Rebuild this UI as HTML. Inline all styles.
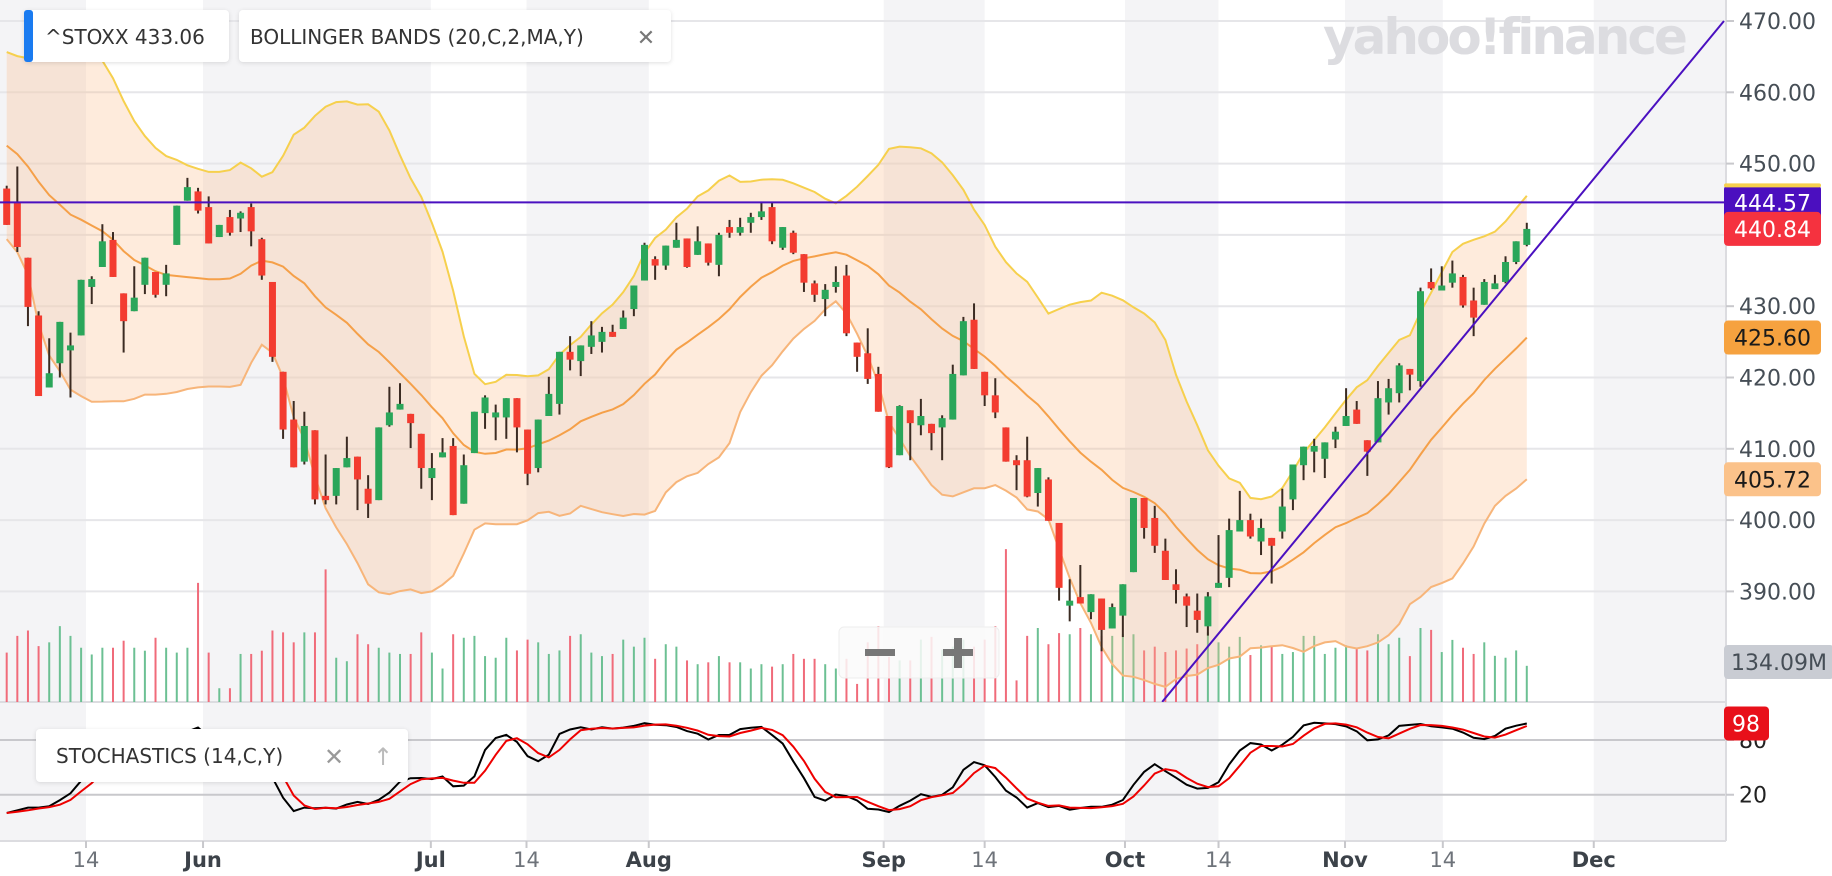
<!DOCTYPE html>
<html><head><meta charset="utf-8">
<style>
html,body{margin:0;padding:0;background:#fff;}
svg{display:block;font-family:"DejaVu Sans","Liberation Sans",sans-serif;}
</style></head>
<body>
<svg id="chart" width="1832" height="876" viewBox="0 0 1832 876" xmlns="http://www.w3.org/2000/svg">
  <defs>
    <clipPath id="priceClip"><rect x="0" y="0" width="1726" height="702"/></clipPath>
    <clipPath id="stochClip"><rect x="0" y="706" width="1726" height="134"/></clipPath>
  </defs>
  <g id="bg"></g>
  <g id="grid"></g>
  <text x="1504" y="54" text-anchor="middle" font-size="50" font-weight="bold" fill="#dcdce0" letter-spacing="-3">yahoo!finance</text>
  <g id="vol"></g>
  <g id="bands" clip-path="url(#priceClip)"></g>
  <g id="candles" clip-path="url(#priceClip)"></g>
  <g id="lines" clip-path="url(#priceClip)"></g>
  <g id="stoch" clip-path="url(#stochClip)"></g>
  <g id="axes"></g>
  <g id="labels"></g>

  <g>
    <rect x="24" y="10" width="205" height="52" rx="4" fill="#fff" filter="drop-shadow(0 1px 2px rgba(0,0,0,0.12))"/>
    <rect x="24" y="10" width="9" height="52" rx="3" fill="#1a7bf0"/>
    <text x="45" y="44" font-size="20" fill="#333">^STOXX  433.06</text>
  </g>
  <g>
    <rect x="239" y="10" width="432" height="52" rx="4" fill="#fff" filter="drop-shadow(0 1px 2px rgba(0,0,0,0.12))"/>
    <text x="250" y="44" font-size="20" fill="#333">BOLLINGER BANDS (20,C,2,MA,Y)</text>
    <text x="646" y="45" font-size="22" fill="#777" text-anchor="middle">✕</text>
  </g>
  <g>
    <rect x="36" y="729" width="372" height="53" rx="4" fill="#fff" filter="drop-shadow(0 1px 2px rgba(0,0,0,0.12))"/>
    <text x="56" y="763" font-size="20" fill="#333">STOCHASTICS (14,C,Y)</text>
    <text x="334" y="765" font-size="24" fill="#999" text-anchor="middle">✕</text>
    <text x="383" y="765" font-size="24" fill="#bbb" text-anchor="middle">↑</text>
  </g>
  <g>
    <rect x="839" y="627" width="160" height="51" rx="5" fill="rgba(250,250,250,0.85)" stroke="#eee"/>
    <rect x="865" y="649" width="30" height="7" fill="#777"/>
    <rect x="943" y="649" width="30" height="7" fill="#777"/>
    <rect x="954" y="638" width="8" height="30" fill="#777"/>
  </g>
</svg>
<script>
const preCloses = [462,465,460,458,455,452,448,450,455,458,460,456,452,448,445,447,450,446,442];
const opens = [446.5,444.5,436.8,428.7,418.6,422.0,423.8,425.9,432.7,435.5,439.3,431.8,429.3,433.0,434.8,433.0,438.6,444.8,446.1,443.9,439.7,442.5,442.3,443.9,439.4,433.4,420.8,414.1,408.2,412.6,403.4,403.4,407.4,408.9,404.4,402.8,413.3,415.5,414.9,412.1,405.9,408.8,410.4,402.3,409.4,415.0,414.4,414.4,417.1,412.7,407.3,414.6,416.3,423.6,422.3,424.3,425.0,426.4,426.8,429.6,433.6,436.6,435.7,438.2,439.5,437.2,438.8,435.8,441.1,440.3,441.7,442.5,443.9,438.2,440.3,437.3,433.2,431.0,432.7,434.3,424.9,423.4,420.5,414.6,409.1,415.4,413.3,413.5,413.0,414.1,420.3,428.1,420.8,417.5,413.0,408.4,408.4,403.8,405.7,399.6,388.0,389.2,387.1,389.0,384.8,386.6,392.7,403.1,400.3,395.7,391.0,389.3,387.3,385.1,390.5,391.9,398.4,400.0,397.0,397.5,398.4,402.9,407.7,409.6,408.6,411.3,413.2,415.5,411.2,410.9,416.5,417.8,421.2,419.5,433.4,432.2,433.3,434.1,430.8,430.2,432.4,433.4,436.2,438.6];
const highs = [446.9,449.6,436.8,429.3,425.5,427.8,426.3,433.7,434.2,441.5,440.4,431.8,435.6,436.8,434.8,435.8,444.1,448.0,446.6,445.4,441.4,443.5,443.3,444.4,439.6,433.4,420.8,416.7,415.2,412.6,409.2,407.3,411.7,408.9,406.3,413.0,418.7,419.2,414.9,412.1,409.4,411.5,411.5,409.2,415.2,417.5,416.2,417.1,417.1,412.7,414.1,420.1,423.6,425.8,424.5,427.9,427.1,427.4,429.4,432.9,438.9,437.0,438.5,441.7,439.5,441.2,438.8,440.3,442.1,442.4,443.1,444.5,444.5,441.1,440.6,437.3,433.6,433.1,435.6,435.8,424.9,426.9,421.5,414.6,416.1,415.4,417.0,413.5,414.7,421.8,428.5,430.4,420.8,419.9,413.0,409.1,411.7,407.3,406.0,399.6,391.7,393.7,389.6,389.0,388.3,391.0,403.1,403.1,402.0,397.4,393.1,389.7,389.7,389.9,397.9,400.2,404.1,400.9,400.2,397.5,404.4,407.8,410.3,411.4,410.9,413.1,418.5,416.7,411.2,419.5,419.8,422.0,421.2,432.6,435.3,435.6,436.4,434.4,432.6,433.8,434.4,437.0,439.1,441.7];
const lows = [441.4,437.6,427.2,417.4,418.6,420.0,417.2,425.9,430.3,435.5,434.1,423.5,429.3,431.7,431.2,431.4,438.6,444.8,443.0,438.8,439.7,439.9,440.4,438.4,433.7,422.2,411.4,407.4,407.8,402.2,402.2,402.2,407.4,401.4,400.3,402.8,413.1,415.5,410.1,404.4,402.8,408.8,400.7,402.3,409.4,412.8,411.2,411.4,409.5,404.9,406.7,414.6,414.8,421.0,420.2,423.3,423.5,425.7,426.8,428.6,433.6,433.7,435.1,438.2,435.4,437.2,435.7,434.2,439.6,439.9,440.3,442.1,438.7,437.9,437.3,432.0,430.6,428.6,431.9,425.8,420.8,419.1,415.2,407.3,409.1,408.4,411.9,409.8,408.4,414.1,420.3,421.2,416.0,414.3,408.2,404.2,403.2,401.9,399.9,388.7,385.8,388.3,386.1,381.6,384.8,383.6,392.7,397.4,395.4,391.6,388.3,385.0,384.2,383.8,390.5,390.6,398.4,397.4,395.1,391.1,397.4,401.4,405.6,406.7,405.9,410.1,413.2,413.5,406.2,410.9,414.8,416.5,418.2,418.7,432.3,432.2,432.6,429.8,425.8,430.2,432.4,433.2,435.9,438.4];
const closes = [441.4,438.3,429.9,417.4,420.6,427.8,424.5,433.7,433.8,439.1,434.1,427.9,431.2,436.8,431.6,434.6,444.1,446.7,443.4,438.8,441.4,440.3,443.1,440.5,434.3,422.9,412.7,407.4,413.2,402.9,402.8,407.3,408.7,405.7,402.3,413.0,415.1,416.3,413.6,407.3,407.3,409.5,400.7,407.7,415.2,417.2,415.1,417.1,413.0,406.5,414.1,417.7,423.6,422.5,424.5,425.9,426.4,425.7,428.4,432.9,438.6,435.7,438.5,439.3,435.5,439.1,436.1,440.0,440.3,441.1,442.5,443.3,439.1,441.1,437.5,433.3,431.6,432.3,433.4,426.2,422.9,419.8,415.2,407.4,416.0,413.6,414.6,412.2,414.3,420.5,427.9,421.2,417.5,415.1,408.2,407.7,403.3,407.3,399.9,390.5,388.7,388.3,389.6,384.6,387.8,391.0,403.1,398.9,396.4,391.6,390.2,388.0,386.0,389.3,391.2,398.6,400.0,397.7,398.9,396.4,401.9,407.8,410.3,410.4,410.9,412.4,414.6,413.5,409.6,417.1,418.5,421.7,420.4,432.1,432.5,432.9,434.6,430.1,428.4,433.4,433.2,436.2,439.1,440.84];
const volumes = [183,245,265,207,221,281,245,201,176,201,201,227,201,190,238,201,183,201,441,183,51,51,178,178,190,265,258,221,258,258,491,164,151,251,214,201,183,178,178,258,183,124,251,238,245,170,164,238,191,231,221,178,191,245,251,183,170,178,231,205,238,160,214,205,154,140,147,170,147,147,124,140,131,140,178,160,160,140,124,160,67,221,281,167,154,154,231,241,194,205,231,205,231,281,566,80,245,274,214,255,251,274,251,245,245,251,251,191,205,185,191,198,214,258,221,205,241,174,210,205,178,185,245,245,178,201,210,201,191,251,214,238,170,274,267,185,230,201,178,221,171,164,191,134];
const priceTicks = [390,400,410,420,430,440,450,460,470];
const priceTickLabels = ["390.00","400.00","410.00","420.00","430.00","440.00","450.00","460.00","470.00"];
const dateTickIdx = [7.46,18.47,39.9,48.9,60.4,82.5,92.0,105.2,114.0,125.9,135.1,149.3];
const dateTickLabels = ["14","Jun","Jul","14","Aug","Sep","14","Oct","14","Nov","14","Dec"];
const hLinePrice = [444.57];
const trendPts = [[108.7,374.5],[161.55,470]];
const stochTicks = [20,80];
const bbPeriod = [20];

const NS = "http://www.w3.org/2000/svg";
const X0 = 6.7, DX = 10.63, PLOT_R = 1726;
const xOf = i => X0 + i * DX;
const yP = p => 163.6 + (450 - p) * 7.13;
const VOL_BASE = 702, VOL_K = 0.27;
const yS = v => 813 - v * 0.913;
function mk(tag, attrs, parent) {
  const el = document.createElementNS(NS, tag);
  for (const k in attrs) el.setAttribute(k, attrs[k]);
  parent.appendChild(el);
  return el;
}
const bg = document.getElementById('bg'), grid = document.getElementById('grid');
const bounds = [0].concat(dateTickIdx.map(xOf)).concat([PLOT_R]);
for (let k = 0; k < bounds.length - 1; k++) {
  if (k % 2 !== 0) continue;
  const r = mk('rect', {x: bounds[k], y: 0, width: bounds[k+1] - bounds[k], height: 841, fill: '#f4f4f6'}, bg);
  
  
}
priceTicks.forEach(p => {
  const l = mk('line', {x1: 0, x2: PLOT_R, y1: yP(p), y2: yP(p), stroke: '#e6e6e9', 'stroke-width': 2}, grid);
  
  
});
mk('line', {x1: 0, x2: PLOT_R, y1: 702, y2: 702, stroke: '#dcdce0', 'stroke-width': 2}, grid);
stochTicks.forEach(s => {
  const l = mk('line', {x1: 0, x2: PLOT_R, y1: yS(s), y2: yS(s), stroke: '#c8c8cc', 'stroke-width': 2}, grid);
  
  
});

const volG = document.getElementById('vol');
volumes.forEach((v, i) => {
  const isUp = closes[i] >= opens[i];
  const l = mk('line', {x1: xOf(i), x2: xOf(i), y1: VOL_BASE, y2: VOL_BASE - v * VOL_K, stroke: isUp ? '#6cc093' : '#f06b7a', 'stroke-width': 2}, volG);
  
  
});

const allC = preCloses.concat(closes);
const P = bbPeriod[0];
const mid = [], up = [], lo = [];
for (let i = 0; i < closes.length; i++) {
  const w = allC.slice(i + preCloses.length - P + 1, i + preCloses.length + 1);
  const m = w.reduce((a, b) => a + b, 0) / w.length;
  const sd = Math.sqrt(w.reduce((a, b) => a + (b - m) * (b - m), 0) / w.length);
  mid.push(m); up.push(m + 2 * sd); lo.push(m - 2 * sd);
}
const bandsG = document.getElementById('bands');
const pts = arr => arr.map((v, i) => xOf(i).toFixed(1) + ',' + yP(v).toFixed(1));
const fill = mk('polygon', {points: pts(up).concat(pts(lo).reverse()).join(' '), fill: 'rgba(253,190,140,0.3)'}, bandsG);


const ub = mk('polyline', {points: pts(up).join(' '), fill: 'none', stroke: '#f6d04d', 'stroke-width': 2}, bandsG);


const mb = mk('polyline', {points: pts(mid).join(' '), fill: 'none', stroke: '#f5a049', 'stroke-width': 2}, bandsG);


const lb = mk('polyline', {points: pts(lo).join(' '), fill: 'none', stroke: '#f7b57a', 'stroke-width': 2}, bandsG);



const cG = document.getElementById('candles');
closes.forEach((c, i) => {
  const o = opens[i], isUp = c >= o, x = xOf(i);
  const g = mk('g', {}, cG);
  
  
  mk('line', {x1: x, x2: x, y1: yP(highs[i]), y2: yP(lows[i]), stroke: '#3b2b22', 'stroke-width': 2}, g);
  const top = yP(Math.max(o, c)), bot = yP(Math.min(o, c));
  mk('rect', {x: x - 3.5, y: top, width: 7, height: Math.max(2, bot - top), fill: isUp ? '#2aa65a' : '#f33c30'}, g);
});

const lG = document.getElementById('lines');
const hl = mk('line', {x1: 0, x2: PLOT_R, y1: yP(hLinePrice[0]), y2: yP(hLinePrice[0]), stroke: '#4a10c0', 'stroke-width': 2}, lG);


const tl = mk('line', {x1: xOf(trendPts[0][0]), y1: yP(trendPts[0][1]), x2: xOf(trendPts[1][0]), y2: yP(trendPts[1][1]), stroke: '#4a10c0', 'stroke-width': 2}, lG);



const fastK = closes.map((c, i) => {
  const s = Math.max(0, i - 13);
  const hh = Math.max(...highs.slice(s, i + 1)), ll = Math.min(...lows.slice(s, i + 1));
  return hh === ll ? 50 : 100 * (c - ll) / (hh - ll);
});
const sma3 = a => a.map((v, i) => { const w = a.slice(Math.max(0, i - 2), i + 1); return w.reduce((x, y) => x + y, 0) / w.length; });
const kLine = sma3(fastK), dLine = sma3(kLine);
const sG = document.getElementById('stoch');
const spts = arr => arr.map((v, i) => xOf(i).toFixed(1) + ',' + yS(v).toFixed(1)).join(' ');
const kl = mk('polyline', {points: spts(kLine), fill: 'none', stroke: '#000', 'stroke-width': 2}, sG);


const dl = mk('polyline', {points: spts(dLine), fill: 'none', stroke: '#e00', 'stroke-width': 2}, sG);



const aG = document.getElementById('axes');
mk('line', {x1: PLOT_R, x2: PLOT_R, y1: 0, y2: 841, stroke: '#dcdce0', 'stroke-width': 2}, aG);
mk('line', {x1: 0, x2: PLOT_R, y1: 841, y2: 841, stroke: '#dcdce0', 'stroke-width': 2}, aG);
mk('rect', {x: 0, y: 842, width: 1832, height: 34, fill: '#fff'}, aG);
priceTicks.forEach((p, k) => {
  mk('line', {x1: PLOT_R, x2: PLOT_R + 8, y1: yP(p), y2: yP(p), stroke: '#c8c8cc', 'stroke-width': 2}, aG);
  const t = mk('text', {x: 1739, y: yP(p) + 8, 'font-size': 22, fill: '#464e56'}, aG);
  t.textContent = priceTickLabels[k];
  
  
});
stochTicks.forEach(s => {
  mk('line', {x1: PLOT_R, x2: PLOT_R + 8, y1: yS(s), y2: yS(s), stroke: '#c8c8cc', 'stroke-width': 2}, aG);
  const t = mk('text', {x: 1739, y: yS(s) + 8, 'font-size': 22, fill: '#222'}, aG);
  t.textContent = String(s);
  
  
});
dateTickIdx.forEach((d, k) => {
  const x = xOf(d);
  mk('line', {x1: x, x2: x, y1: 841, y2: 848, stroke: '#c8c8cc', 'stroke-width': 2}, aG);
  const isNum = /^\d+$/.test(dateTickLabels[k]);
  const t = mk('text', {x: x, y: 867, 'font-size': 21, 'text-anchor': 'middle', fill: isNum ? '#6e737a' : '#3c4249', 'font-weight': isNum ? 'normal' : 'bold'}, aG);
  t.textContent = dateTickLabels[k];
  
  
});

const lab = document.getElementById('labels');
function tag(yc, w, bgc, fg, txt, name, top) {
  const g = mk('g', {}, lab);
  
  
  mk('rect', {x: 1724, y: yc - 17, width: w, height: 34, rx: 4, fill: bgc}, g);
  if (top) mk('rect', {x: 1724, y: yc - 19, width: w, height: 4, rx: 2, fill: top}, g);
  const t = mk('text', {x: 1724 + w / 2, y: yc + 8, 'font-size': 22, 'text-anchor': 'middle', fill: fg}, g);
  t.textContent = txt;
}
const lastMid = mid[mid.length - 1], lastLo = lo[lo.length - 1];
tag(yP(hLinePrice[0]), 97, '#4b0fbf', '#fff', hLinePrice[0].toFixed(2), 'hline-price-label', '#f6d04d');
tag(yP(closes[closes.length - 1]), 97, '#f5323f', '#fff', closes[closes.length - 1].toFixed(2), 'last-price-label');
tag(yP(lastMid), 97, '#f6a23f', '#1a1a1a', lastMid.toFixed(2), 'bb-middle-label');
tag(yP(lastLo), 97, '#fbc28a', '#1a1a1a', lastLo.toFixed(2), 'bb-lower-label');
tag(662, 110, '#c9ccd3', '#464e56', '134.09M', 'volume-label');
const kLast = kLine[kLine.length - 1];
const sg = mk('g', {}, lab);


mk('rect', {x: 1724, y: yS(kLast) - 17, width: 45, height: 34, rx: 4, fill: '#e8101a'}, sg);
const st = mk('text', {x: 1746, y: yS(kLast) + 8, 'font-size': 22, 'text-anchor': 'middle', fill: '#fff'}, sg);
st.textContent = String(Math.round(kLast));
</script>
</body></html>
